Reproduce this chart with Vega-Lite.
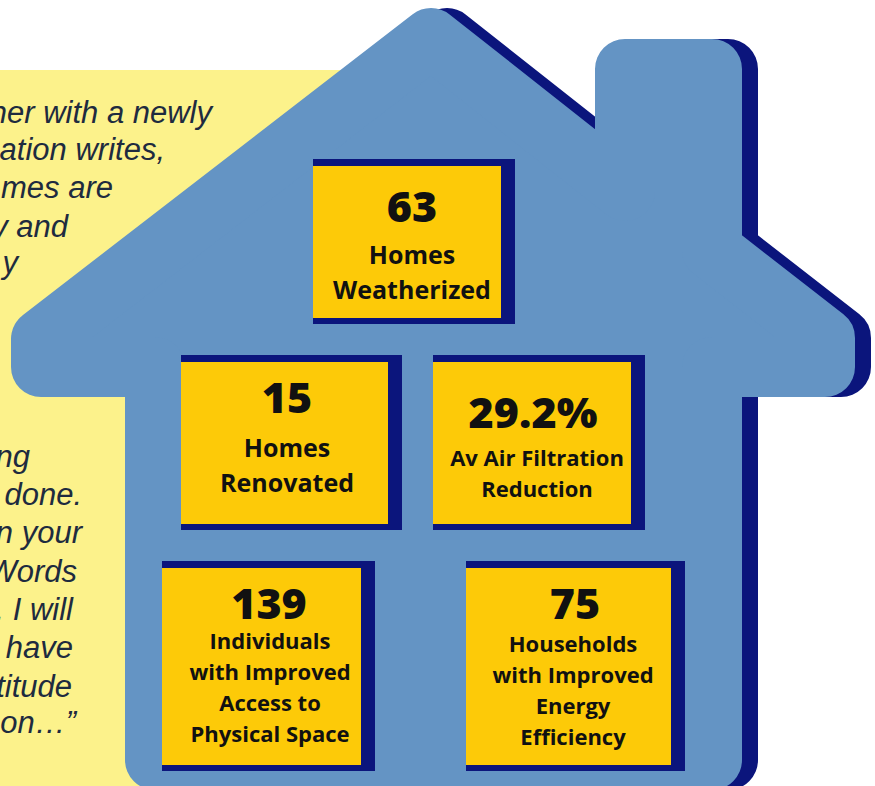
{
  "$schema": "https://vega.github.io/schema/vega-lite/v6.json",
  "width": 875,
  "height": 786,
  "autosize": {"type": "none"},
  "padding": 0,
  "background": "white",
  "config": {"view": {"stroke": null}},
  "datasets": {
    "panel": [{"x1": 0, "x2": 460, "y1": 70, "y2": 800}],
    "house": [
      {"i": 0, "x": 41, "y": 339},
      {"i": 1, "x": 431, "y": 38},
      {"i": 2, "x": 625, "y": 191},
      {"i": 3, "x": 625, "y": 69},
      {"i": 4, "x": 712, "y": 69},
      {"i": 5, "x": 712, "y": 250},
      {"i": 6, "x": 825, "y": 338},
      {"i": 7, "x": 825, "y": 367},
      {"i": 8, "x": 712, "y": 367},
      {"i": 9, "x": 712, "y": 760},
      {"i": 10, "x": 155, "y": 760},
      {"i": 11, "x": 155, "y": 367},
      {"i": 12, "x": 41, "y": 367},
      {"i": 13, "x": 41, "y": 339}
    ],
    "boxes": [
      {"box": 1, "value": "63", "x1": 313, "x2": 515, "y1": 159, "y2": 324, "cx": 412, "vy": 222},
      {"box": 2, "value": "15", "x1": 181, "x2": 402, "y1": 355, "y2": 530, "cx": 287, "vy": 413},
      {"box": 3, "value": "29.2%", "x1": 433, "x2": 645, "y1": 355, "y2": 530, "cx": 533, "vy": 428},
      {"box": 4, "value": "139", "x1": 162, "x2": 375, "y1": 561, "y2": 771, "cx": 269, "vy": 619},
      {"box": 5, "value": "75", "x1": 466, "x2": 685, "y1": 561, "y2": 771, "cx": 575, "vy": 619}
    ],
    "labels": [
      {"box": 1, "text": "Homes", "cx": 412, "y": 264},
      {"box": 1, "text": "Weatherized", "cx": 412, "y": 299},
      {"box": 2, "text": "Homes", "cx": 287, "y": 457},
      {"box": 2, "text": "Renovated", "cx": 287, "y": 492},
      {"box": 3, "text": "Av Air Filtration", "cx": 537, "y": 466},
      {"box": 3, "text": "Reduction", "cx": 537, "y": 497},
      {"box": 4, "text": "Individuals", "cx": 270, "y": 649},
      {"box": 4, "text": "with Improved", "cx": 270, "y": 680},
      {"box": 4, "text": "Access to", "cx": 270, "y": 711},
      {"box": 4, "text": "Physical Space", "cx": 270, "y": 742},
      {"box": 5, "text": "Households", "cx": 573, "y": 652},
      {"box": 5, "text": "with Improved", "cx": 573, "y": 683},
      {"box": 5, "text": "Energy", "cx": 573, "y": 714},
      {"box": 5, "text": "Efficiency", "cx": 573, "y": 745}
    ],
    "quote": [
      {"text": "her with a newly", "xr": 212, "y": 123},
      {"text": "ation writes,", "xr": 165, "y": 160},
      {"text": "mes are", "xr": 113, "y": 198},
      {"text": "y and", "xr": 68, "y": 237},
      {"text": "y", "xr": 18, "y": 273},
      {"text": "ng", "xr": 30, "y": 467},
      {"text": "done.", "xr": 82, "y": 505},
      {"text": "n your", "xr": 82, "y": 543},
      {"text": "Words", "xr": 77, "y": 582},
      {"text": ". I will", "xr": 73, "y": 620},
      {"text": "have", "xr": 73, "y": 658},
      {"text": "titude", "xr": 72, "y": 697},
      {"text": "on…”", "xr": 76, "y": 733}
    ]
  },
  "layer": [
    {
      "data": {"name": "panel"},
      "mark": {"type": "rect", "color": "#fcf28b"},
      "encoding": {
        "x": {"field": "x1", "type": "quantitative", "scale": {"domain": [0, 875], "nice": false, "zero": false}, "axis": null},
        "x2": {"field": "x2"},
        "y": {"field": "y1", "type": "quantitative", "scale": {"domain": [0, 786], "nice": false, "zero": false, "reverse": true}, "axis": null},
        "y2": {"field": "y2"}
      }
    },
    {
      "data": {"name": "house"},
      "mark": {"type": "line", "fill": "#0b157c", "stroke": "#0b157c", "strokeWidth": 60, "strokeJoin": "round", "strokeCap": "round", "xOffset": 16},
      "encoding": {
        "x": {"field": "x", "type": "quantitative", "scale": {"domain": [0, 875], "nice": false, "zero": false}, "axis": null},
        "y": {"field": "y", "type": "quantitative", "scale": {"domain": [0, 786], "nice": false, "zero": false, "reverse": true}, "axis": null},
        "order": {"field": "i", "type": "quantitative"}
      }
    },
    {
      "data": {"name": "house"},
      "mark": {"type": "line", "fill": "#6494c4", "stroke": "#6494c4", "strokeWidth": 60, "strokeJoin": "round", "strokeCap": "round"},
      "encoding": {
        "x": {"field": "x", "type": "quantitative", "scale": {"domain": [0, 875], "nice": false, "zero": false}, "axis": null},
        "y": {"field": "y", "type": "quantitative", "scale": {"domain": [0, 786], "nice": false, "zero": false, "reverse": true}, "axis": null},
        "order": {"field": "i", "type": "quantitative"}
      }
    },
    {
      "data": {"name": "boxes"},
      "mark": {"type": "rect", "color": "#0b157c"},
      "encoding": {
        "x": {"field": "x1", "type": "quantitative", "scale": {"domain": [0, 875], "nice": false, "zero": false}, "axis": null},
        "x2": {"field": "x2"},
        "y": {"field": "y1", "type": "quantitative", "scale": {"domain": [0, 786], "nice": false, "zero": false, "reverse": true}, "axis": null},
        "y2": {"field": "y2"}
      }
    },
    {
      "data": {"name": "boxes"},
      "mark": {"type": "rect", "color": "#fdca08", "x2Offset": -14, "yOffset": 7, "y2Offset": -6},
      "encoding": {
        "x": {"field": "x1", "type": "quantitative", "scale": {"domain": [0, 875], "nice": false, "zero": false}, "axis": null},
        "x2": {"field": "x2"},
        "y": {"field": "y1", "type": "quantitative", "scale": {"domain": [0, 786], "nice": false, "zero": false, "reverse": true}, "axis": null},
        "y2": {"field": "y2"}
      }
    },
    {
      "data": {"name": "boxes"},
      "mark": {"type": "text", "font": "Open Sans", "fontWeight": 800, "fontSize": 43, "color": "#111111", "align": "center", "baseline": "alphabetic"},
      "encoding": {
        "x": {"field": "cx", "type": "quantitative", "scale": {"domain": [0, 875], "nice": false, "zero": false}, "axis": null},
        "y": {"field": "vy", "type": "quantitative", "scale": {"domain": [0, 786], "nice": false, "zero": false, "reverse": true}, "axis": null},
        "text": {"field": "value"}
      }
    },
    {
      "data": {"name": "labels"},
      "transform": [{"filter": "datum.box <= 2"}],
      "mark": {"type": "text", "font": "Open Sans", "fontWeight": "bold", "fontSize": 25, "color": "#111111", "align": "center", "baseline": "alphabetic"},
      "encoding": {
        "x": {"field": "cx", "type": "quantitative", "scale": {"domain": [0, 875], "nice": false, "zero": false}, "axis": null},
        "y": {"field": "y", "type": "quantitative", "scale": {"domain": [0, 786], "nice": false, "zero": false, "reverse": true}, "axis": null},
        "text": {"field": "text"}
      }
    },
    {
      "data": {"name": "labels"},
      "transform": [{"filter": "datum.box >= 3"}],
      "mark": {"type": "text", "font": "Open Sans", "fontWeight": "bold", "fontSize": 22, "color": "#111111", "align": "center", "baseline": "alphabetic"},
      "encoding": {
        "x": {"field": "cx", "type": "quantitative", "scale": {"domain": [0, 875], "nice": false, "zero": false}, "axis": null},
        "y": {"field": "y", "type": "quantitative", "scale": {"domain": [0, 786], "nice": false, "zero": false, "reverse": true}, "axis": null},
        "text": {"field": "text"}
      }
    },
    {
      "data": {"name": "quote"},
      "mark": {"type": "text", "font": "Liberation Sans", "fontStyle": "italic", "fontSize": 31, "color": "#1e2b3f", "align": "right", "baseline": "alphabetic"},
      "encoding": {
        "x": {"field": "xr", "type": "quantitative", "scale": {"domain": [0, 875], "nice": false, "zero": false}, "axis": null},
        "y": {"field": "y", "type": "quantitative", "scale": {"domain": [0, 786], "nice": false, "zero": false, "reverse": true}, "axis": null},
        "text": {"field": "text"}
      }
    }
  ]
}
